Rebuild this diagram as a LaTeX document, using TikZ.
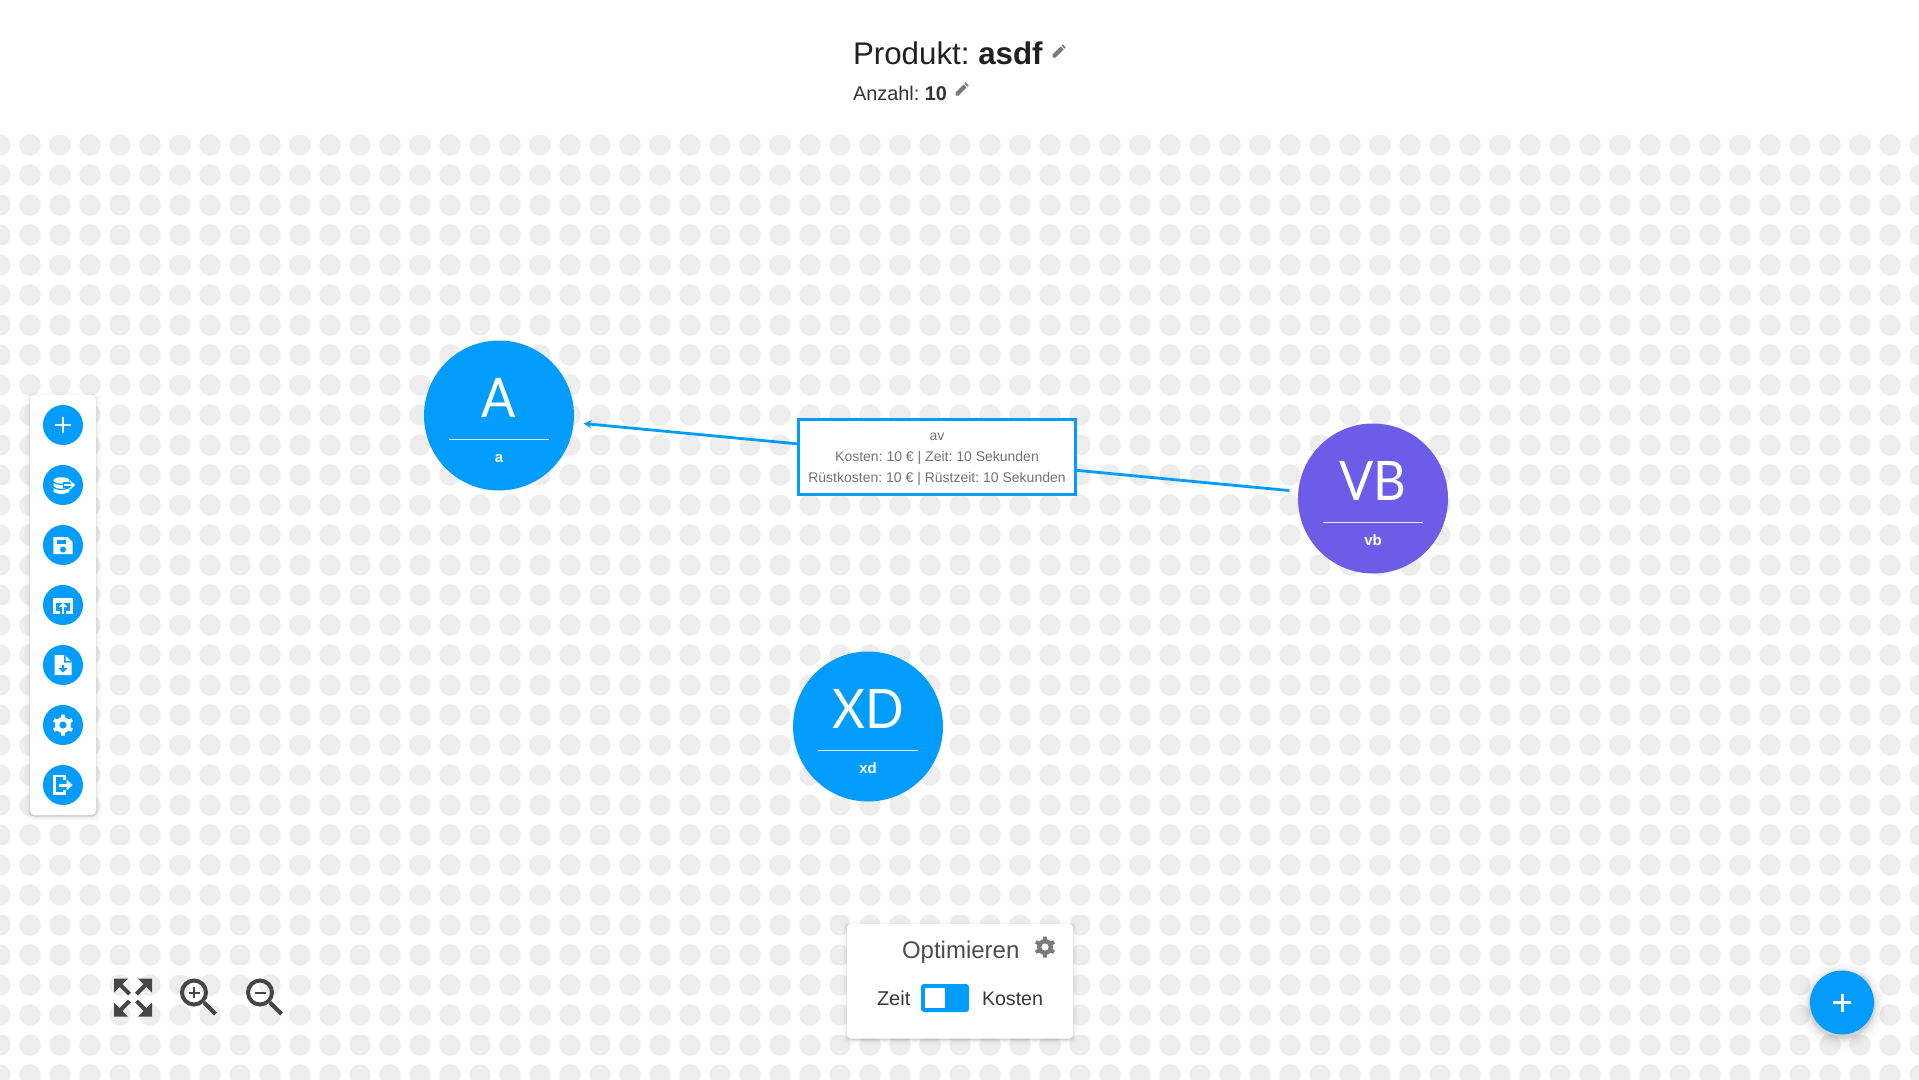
\documentclass[tikz,border=0pt]{standalone}
\usepackage{fontspec}
\setmainfont{Liberation Sans}
\newfontfamily\bigfont[FakeStretch=0.93]{Lato}
\usetikzlibrary{arrows.meta}
\definecolor{blu}{HTML}{029DFC}
\definecolor{pur}{HTML}{6C5CE7}
\definecolor{dotc}{HTML}{EDEDED}
\definecolor{ico}{HTML}{464646}
\definecolor{pen}{HTML}{7A7A7A}
\tikzset{
  bubble/.style={circle,minimum size=150pt,inner sep=0pt,outer sep=0pt},
  big/.style={anchor=base,text=white,font=\bigfont\fontsize{54.5}{60}\selectfont},
  small/.style={anchor=base,text=white,font=\fontsize{15}{18}\selectfont\bfseries},
  btn/.style={circle,fill=blu,minimum size=40pt,inner sep=0pt,outer sep=0pt},
  txt/.style={anchor=base west,inner sep=0pt,outer sep=0pt},
  edge/.style={draw=blu,line width=2.8pt,-{Stealth[length=8pt,width=8pt]},shorten >=10pt,shorten <=9pt},
}
\newcommand{\softshadow}[4]{%
  \foreach \e/\o in {5/.01,3/.015,2/.025,1/.04,0/.1}{%
    \fill[black,opacity=\o,rounded corners=4pt] (#1-\e,#2-\e+1.5) rectangle (#3+\e,#4+\e+1.5);}}
\newcommand{\gearicon}[5]{% x y R fill hole
  \begin{scope}[shift={(#1,#2)}]
    \fill[#4] (0,0) circle ({0.76*#3});
    \foreach \a in {90,150,210,270,330,30}{%
      \fill[#4,rotate=\a] ({0.6*#3},{-0.2*#3}) -- (#3,{-0.17*#3}) -- (#3,{0.17*#3}) -- ({0.6*#3},{0.2*#3}) -- cycle;}
    \fill[#5] (0,0) circle ({0.34*#3});
  \end{scope}}
\newcommand{\pencilicon}[2]{%
  \begin{scope}[shift={(#1,#2)}]
    \fill[pen] (-6.5,6.5) -- (-6.5,3.5) -- (1.5,-4.5) -- (4.5,-1.5) -- (-3.5,6.5) -- cycle;
    \fill[pen] (2.4,-5.4) -- (3.7,-6.7) -- (6.7,-3.7) -- (5.4,-2.4) -- cycle;
  \end{scope}}
\begin{document}
\frenchspacing
\begin{tikzpicture}[x=1pt,y=-1pt]
\useasboundingbox (0,0) rectangle (1919,1079);
\fill[white] (0,0) rectangle (1919,1079);
% dot grid
\begin{scope}
  \clip (0,130) rectangle (1919,1079);
  \foreach \i in {0,...,64}{%
    \foreach \j in {0,...,31}{%
      \fill[dotc] ({\i*30},{145+\j*30}) circle (10.7);}}
\end{scope}
% title
\node[txt,text=black!87,font=\fontsize{31.3}{36}\selectfont] (title) at (853,64) {Produkt: \textbf{asdf}};
\node[txt,text=black!80,font=\fontsize{19.9}{24}\selectfont] (count) at (853,100) {Anzahl: \textbf{10}};
\pencilicon{1059}{51}
\pencilicon{962}{89}
% graph nodes
\node[bubble,fill=blu] (a) at (499,415.5) {};
\node[bubble,fill=pur] (vb) at (1373,498.5) {};
\node[bubble,fill=blu] (xd) at (868,726.5) {};
\draw[edge] (vb) -- (a);
\foreach \n/\x/\y/\bigt/\smt in {a/499/415.5/A/a,vb/1373/498.5/VB/vb,xd/868/726.5/XD/xd}{%
  \node[big] (\n big) at (\x,\y+2) {\bigt};
  \node[small] (\n small) at (\x,\y+47) {\smt};
  \draw[white,opacity=.85,line width=1.3pt] (\x-50,\y+23.7) -- (\x+50,\y+23.7);
}
% edge label
\node[draw=blu,line width=3pt,fill=white,minimum width=277pt,minimum height=75pt,inner sep=0pt,align=center,text=black!55,font=\fontsize{14}{21}\selectfont] (lab) at (937,456.5)
  {\rule{0pt}{13.5pt}av\\Kosten: 10 € | Zeit: 10 Sekunden\\Rüstkosten: 10 € | Rüstzeit: 10 Sekunden};
% toolbar
\softshadow{30}{395}{96}{815}
\fill[white,rounded corners=4pt] (30,395) rectangle (96,815);
\node[btn] (b1) at (63,425) {};
\node[btn] (b2) at (63,485) {};
\node[btn] (b3) at (63,545) {};
\node[btn] (b4) at (63,605) {};
\node[btn] (b5) at (63,665) {};
\node[btn] (b6) at (63,725) {};
\node[btn] (b7) at (63,785) {};
% plus
\fill[white] (55,423.6) rectangle (71,426.4);
\fill[white] (61.6,417) rectangle (64.4,433);
% database
\begin{scope}[shift={(63,485)}]
  \fill[white] (-9.5,-4.5) .. controls (-9.5,-8.8) and (6.5,-8.8) .. (6.5,-4.5) -- (6.5,5.5) .. controls (6.5,10) and (-9.5,10) .. (-9.5,5.5) -- cycle;
  \draw[blu,line width=1.2pt] (-10,-3) .. controls (-6,0.3) and (3,0.3) .. (7,-3);
  \draw[blu,line width=1.2pt] (-10,2) .. controls (-6,5.3) and (3,5.3) .. (7,2);
  \fill[blu] (0,-3) -- (6,-3) -- (9,-6) -- (13,0) -- (9,6) -- (6,3) -- (0,3) -- cycle;
  \draw[white,line width=1.5pt] (0.5,0) -- (10.5,0);
  \draw[white,line width=1.5pt] (6.8,-4) -- (11,0) -- (6.8,4);
\end{scope}
% save
\begin{scope}[shift={(63,545)}]
  \fill[white] (-9.6,-8) -- (4.5,-8) -- (9.6,-3) -- (9.6,9) -- (-9.6,9) -- cycle;
  \fill[blu] (-6.5,-5.5) rectangle (3,-1);
  \fill[blu] (0,4.5) circle (3);
\end{scope}
% upload
\begin{scope}[shift={(63,605)}]
  \fill[white] (-9.6,-7) rectangle (9.6,-2.5);
  \fill[white] (-9.6,-7) rectangle (-7.4,8.5);
  \fill[white] (7.4,-7) rectangle (9.6,8.5);
  \fill[white] (-9.6,6.3) rectangle (-3,8.5);
  \fill[white] (3,6.3) rectangle (9.6,8.5);
  \fill[white] (-1.2,0) rectangle (1.2,8.5);
  \fill[white] (-4.5,2) -- (0,-2.5) -- (4.5,2) -- cycle;
\end{scope}
% file download
\begin{scope}[shift={(63,665)}]
  \fill[white] (-8.5,-10) -- (2,-10) -- (8.5,-3.5) -- (8.5,10) -- (-8.5,10) -- cycle;
  \fill[blu] (1,-10) -- (2,-10) -- (8.5,-3.5) -- (8.5,-2.5) -- (1,-2.5) -- cycle;
  \fill[white] (2.6,-9) -- (7.8,-3.8) -- (2.6,-3.8) -- cycle;
  \fill[blu] (-1.3,-0.5) rectangle (1.3,3.5);
  \fill[blu] (-4.5,3) -- (4.5,3) -- (0,7.5) -- cycle;
\end{scope}
% gear
\gearicon{63}{725}{10.5}{white}{blu}
% exit
\begin{scope}[shift={(63,785)}]
  \fill[white] (-9.7,-10) rectangle (2.5,-7.6);
  \fill[white] (-9.7,7.4) rectangle (2.5,9.8);
  \fill[white] (-9.7,-10) rectangle (-7.3,9.8);
  \fill[white] (0.2,-10) rectangle (2.5,-5);
  \fill[white] (0.2,5) rectangle (2.5,9.8);
  \fill[white] (-4,-1.5) rectangle (4,1.5);
  \fill[white] (3.5,-5.5) -- (9.7,0) -- (3.5,5.5) -- cycle;
\end{scope}
% zoom controls
\begin{scope}[shift={(133,997.5)}]
  \foreach \sx/\sy in {-1/-1,1/-1,-1/1,1/1}{%
    \fill[ico] ({\sx*19},{\sy*19}) -- ({\sx*5},{\sy*19}) -- ({\sx*19},{\sy*5}) -- cycle;
    \draw[ico,line width=4pt] ({\sx*13},{\sy*13}) -- ({\sx*3.5},{\sy*3.5});
  }
\end{scope}
\draw[ico,line width=4pt] (194,992.5) circle (12);
\draw[ico,line width=4pt] (204,1002.5) -- (215.5,1014);
\fill[ico] (188.5,991.5) rectangle (199.5,993.5);
\fill[ico] (193,987) rectangle (195,998);
\draw[ico,line width=4pt] (260,992.5) circle (12);
\draw[ico,line width=4pt] (270,1002.5) -- (281.5,1014);
\fill[ico] (254.5,991.5) rectangle (265.5,993.5);
% optimise panel
\softshadow{847}{924}{1073}{1038.5}
\fill[white,rounded corners=4pt] (847,924) rectangle (1073,1038.5);
\node[txt,text=black!70,font=\fontsize{24}{28}\selectfont] (opt) at (902,958) {Optimieren};
\gearicon{1045}{947}{10.5}{pen}{white}
\node[txt,text=black!78,font=\fontsize{20}{24}\selectfont] (zeit) at (877,1005) {Zeit};
\node[txt,text=black!78,font=\fontsize{19.6}{24}\selectfont] (kost) at (982,1005) {Kosten};
\fill[blu,rounded corners=3pt] (921,984) rectangle (969,1012);
\fill[white] (925,988) rectangle (945,1008);
% FAB
\foreach \e/\o in {12/.012,9/.018,6/.025,4/.03,2/.04,1/.05}{\fill[black,opacity=\o] (1842,1005.5) circle (32+\e);}
\node[circle,fill=blu,minimum size=64pt,inner sep=0pt,outer sep=0pt] (fab) at (1842,1002.5) {};
\fill[white] (1833,1001) rectangle (1851,1004);
\fill[white] (1840.5,993.5) rectangle (1843.5,1011.5);
\end{tikzpicture}
\end{document}
